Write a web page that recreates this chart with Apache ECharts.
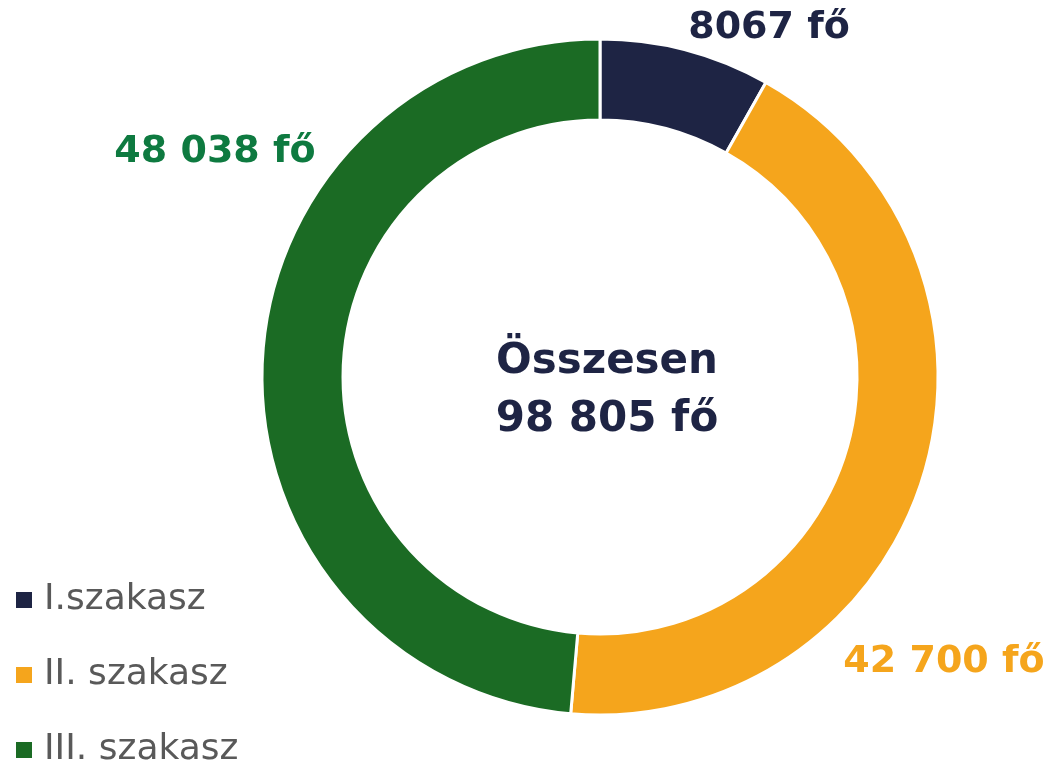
<!DOCTYPE html>
<html>
<head>
<meta charset="utf-8">
<script src="https://cdn.jsdelivr.net/npm/echarts@6/dist/echarts.min.js"></script>
<style>
  html, body { margin: 0; padding: 0; background: #fff; }
  #chart { width: 1051px; height: 769px; }
</style>
</head>
<body>
<div id="chart"></div>
<script>
const categories = ["I.szakasz", "II. szakasz", "III. szakasz"];
const values = [8067, 42700, 48038];
const totalLabel = "98 805 fő";

const sliceColors = ["#1e2444", "#f5a51c", "#1b6b24"];
const labelColors = ["#1e2444", "#f5a51c", "#0e7a40"];
// label anchor spots (label boxes only, not marks)
const labelSpots = [
  { x: 769, y: 28 },
  { x: 944, y: 662 },
  { x: 215, y: 152 }
];

const fmt = v => String(v).length > 4
  ? String(v).replace(/\B(?=(\d{3})+(?!\d))/g, " ")
  : String(v);

const chart = echarts.init(document.getElementById("chart"), null, { renderer: "canvas" });

chart.setOption({
  backgroundColor: "#fff",
  animation: false,
  title: {
    text: "Összesen\n" + totalLabel,
    left: 602,
    top: 328,
    textAlign: "center",
    textStyle: {
      fontFamily: "DejaVu Sans",
      fontWeight: "bold",
      fontSize: 42,
      lineHeight: 58,
      color: "#1e2444"
    }
  },
  legend: {
    orient: "vertical",
    left: 14,
    top: 582,
    height: 220,
    padding: 0,
    icon: "rect",
    itemWidth: 18,
    itemHeight: 18,
    itemGap: 39,
    textStyle: {
      fontFamily: "DejaVu Sans",
      fontSize: 36,
      lineHeight: 36,
      color: "#595959",
      padding: [0, 0, 0, 6]
    },
    data: categories
  },
  series: [
    {
      type: "pie",
      center: [600, 377],
      radius: [257, 338],
      startAngle: 90,
      clockwise: true,
      itemStyle: { borderColor: "#fff", borderWidth: 3 },
      label: {
        show: true,
        position: "outside",
        fontFamily: "DejaVu Sans",
        fontWeight: "bold",
        fontSize: 38,
        overflow: "none",
        formatter: p => fmt(p.value) + " fő"
      },
      labelLine: { show: false },
      labelLayout: p => ({
        x: labelSpots[p.dataIndex].x,
        y: labelSpots[p.dataIndex].y,
        align: "center",
        verticalAlign: "middle"
      }),
      data: categories.map((c, i) => ({
        name: c,
        value: values[i],
        itemStyle: { color: sliceColors[i] },
        label: { color: labelColors[i] }
      }))
    }
  ]
});
</script>
</body>
</html>
